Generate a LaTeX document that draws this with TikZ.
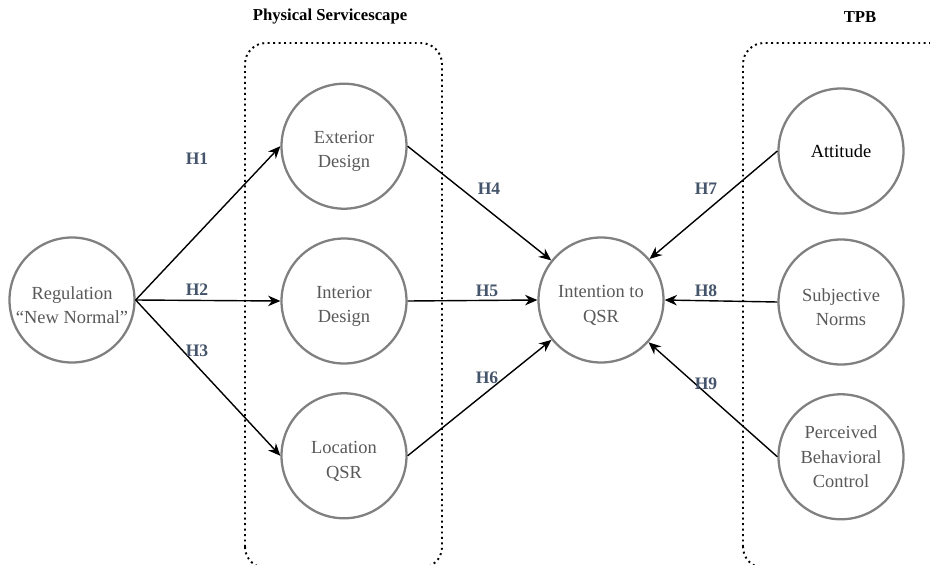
\documentclass[tikz,border=0pt]{standalone}
\usepackage{fontspec}
\setmainfont{Liberation Serif}
\usepackage{xcolor}
\usepackage{tikz}
\usetikzlibrary{arrows.meta, positioning, calc}

\definecolor{ringgray}{HTML}{808080}
\definecolor{textgray}{HTML}{595959}
\definecolor{hypblue}{HTML}{44546A}

\begin{document}
\begin{tikzpicture}[
		node distance=.55cm and .5cm,
		construct/.style={circle, draw=ringgray, line width=1.3pt, fill=white, minimum size=2.5cm, inner sep=0pt, align=center, text=textgray, font=\fontsize{10.5}{14}\selectfont},
		twoline/.style={construct, execute at begin node={\rule{0pt}{27pt}}},
		hyp/.style={text=hypblue, font=\fontsize{10}{12}\selectfont\bfseries},
		group/.style={draw=black, dotted, line width=1.1pt, rounded corners=12pt},
		title/.style={font=\fontsize{9.5}{11}\selectfont\bfseries},
		arrow/.style={-{Stealth[length=7pt, width=6pt]}, line width=0.8pt}
		]
		
		\useasboundingbox (0,0) rectangle (18.6,11.28);
		\clip (0,0) rectangle (18.6,11.28);
		
		% Dotted group frames
		\draw[group] (4.9,-0.08) rectangle (8.84,10.42);
		\draw[group] (14.86,-0.08) rectangle (19.5,10.42);
		\node[title] (servtitle) at (6.6,10.94) {Physical Servicescape};
		\node[title] (tpbtitle) at (17.2,10.94) {TPB};
		
		% Regulation on the left
		\node[twoline] (reg) at (1.44,5.28) {Regulation\\``New Normal''};
		
		% Servicescape constructs
		\node[twoline] (int) at (6.88,5.26) {Interior\\Design};
		\node[twoline, above=of int] (ext) {Exterior\\Design};
		\node[twoline, below=of int] (loc) {Location\\QSR};
		
		% Outcome in the centre
		\node[twoline] (intent) at (12.02,5.28) {Intention to\\QSR};
		
		% TPB constructs
		\node[twoline] (subj) at (16.82,5.24) {Subjective\\Norms};
		\node[construct, text=black] (att) at (16.82,8.26) {Attitude};
		\node[construct, below=of subj] (pbc) {Perceived\\Behavioral\\Control};
		
		% Hypothesis paths
		\draw[arrow] (reg.east) -- (ext.west);
		\draw[arrow] (reg.east) -- (int.west);
		\draw[arrow] (reg.east) -- (loc.west);
		\draw[arrow] (ext.east) -- (intent);
		\draw[arrow] (int.east) -- (intent.west);
		\draw[arrow] (loc.east) -- (intent);
		\draw[arrow] (att.west) -- (intent);
		\draw[arrow] (subj.west) -- (intent.east);
		\draw[arrow] (pbc.west) -- (intent);
		
		% Hypothesis labels
		\node[hyp] (h1) at (3.94,8.1) {H1};
		\node[hyp] (h2) at (3.94,5.48) {H2};
		\node[hyp] (h3) at (3.94,4.26) {H3};
		\node[hyp] (h4) at (9.78,7.5) {H4};
		\node[hyp] (h5) at (9.74,5.46) {H5};
		\node[hyp] (h6) at (9.74,3.72) {H6};
		\node[hyp] (h7) at (14.12,7.5) {H7};
		\node[hyp] (h8) at (14.12,5.46) {H8};
		\node[hyp] (h9) at (14.12,3.6) {H9};
		
	\end{tikzpicture}
\end{document}
